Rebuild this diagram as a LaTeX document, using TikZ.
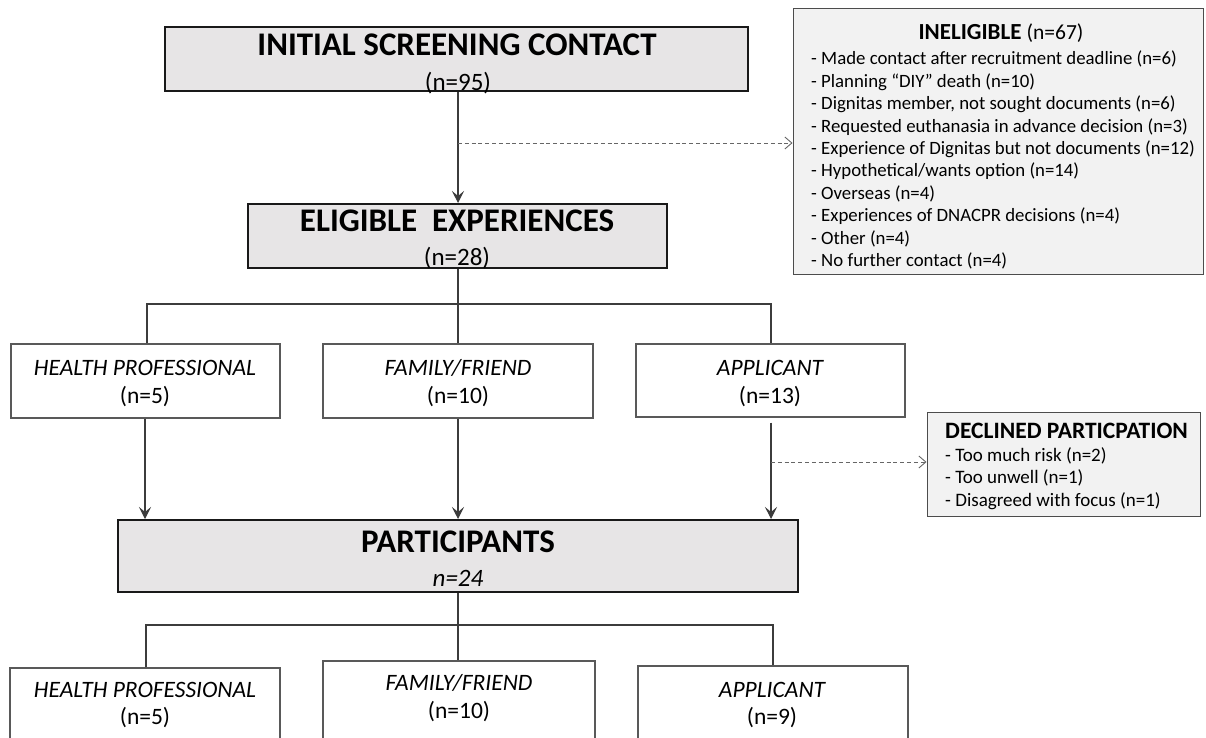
\documentclass[tikz,border=0pt]{standalone}
\usepackage{fontspec}
\setmainfont{Carlito}
\usetikzlibrary{arrows.meta}
\definecolor{boxgray}{RGB}{231,229,230}
\definecolor{listgray}{RGB}{242,242,242}
\definecolor{linec}{RGB}{60,60,60}
\begin{document}
\begin{tikzpicture}[x=1pt,y=-1pt,
  mainbox/.style={draw=black!90, line width=2pt, fill=boxgray, inner sep=0pt},
  subbox/.style={draw=black!65, line width=1.2pt, fill=white, inner sep=0pt},
  listbox/.style={draw=black!70, line width=1pt, fill=listgray, inner sep=0pt},
  conn/.style={draw=linec, line width=1.1pt},
  arr/.style={conn, -{Stealth[length=12pt,width=12pt,inset=5pt]}},
  darr/.style={conn, draw=black!60, line width=0.9pt, dash pattern=on 4pt off 2.8pt, -{Straight Barb[length=7pt,width=12pt]}},
  bigt/.style={font=\fontsize{33}{36}\selectfont\bfseries, inner sep=0pt},
  nt/.style={font=\fontsize{25}{28}\selectfont, inner sep=0pt},
  itn/.style={font=\fontsize{25}{28}\selectfont\itshape, inner sep=0pt},
  subt/.style={font=\fontsize{23.5}{26}\selectfont\itshape, inner sep=0pt},
  subn/.style={font=\fontsize{23.5}{26}\selectfont, inner sep=0pt},
  listt/.style={font=\fontsize{23.5}{26}\selectfont\bfseries, inner sep=0pt},
  listl/.style={font=\fontsize{18.8}{22.4}\selectfont, inner sep=0pt, align=left, anchor=north west}
]
\useasboundingbox (0,0) rectangle (1206,738);
\clip (0,0) rectangle (1206,738);
\fill[white] (0,0) rectangle (1206,738);

% main boxes
\node[mainbox, minimum width=583pt, minimum height=64pt] (init) at (456.5,59) {};
\node[bigt] (initT) at (457,44.7) {INITIAL SCREENING CONTACT};
\node[nt] (initN) at (458,83) {(n=95)};

\node[mainbox, minimum width=419pt, minimum height=64pt] (elig) at (457.5,236) {};
\node[bigt] (eligT) at (457,221) {ELIGIBLE\ \ EXPERIENCES};
\node[nt] (eligN) at (457,258) {(n=28)};

\node[subbox, minimum width=269pt, minimum height=74pt] (hp1) at (145.5,381) {};
\node[subt] (hp1T) at (145,368) {HEALTH PROFESSIONAL};
\node[subn] (hp1N) at (145,397) {(n=5)};
\node[subbox, minimum width=270pt, minimum height=74pt] (ff1) at (458,381) {};
\node[subt] (ff1T) at (458,368) {FAMILY/FRIEND};
\node[subn] (ff1N) at (458,397) {(n=10)};
\node[subbox, minimum width=269pt, minimum height=73pt] (ap1) at (770.5,380.5) {};
\node[subt] (ap1T) at (770,368) {APPLICANT};
\node[subn] (ap1N) at (770,397) {(n=13)};

\node[mainbox, minimum width=680pt, minimum height=72pt] (part) at (458,556) {};
\node[bigt] (partT) at (458,542) {PARTICIPANTS};
\node[itn] (partN) at (458,578) {n=24};

\node[subbox, minimum width=270pt, minimum height=76pt] (hp2) at (145,706) {};
\node[subt] (hp2T) at (145,690) {HEALTH PROFESSIONAL};
\node[subn] (hp2N) at (145,718) {(n=5)};
\node[subbox, minimum width=272pt, minimum height=80pt] (ff2) at (459,701) {};
\node[subt] (ff2T) at (459,683) {FAMILY/FRIEND};
\node[subn] (ff2N) at (459,712) {(n=10)};
\node[subbox, minimum width=270pt, minimum height=76pt] (ap2) at (773,704) {};
\node[subt] (ap2T) at (772,690) {APPLICANT};
\node[subn] (ap2N) at (772,718) {(n=9)};

% side boxes
\node[listbox, minimum width=410pt, minimum height=265pt] (inel) at (998,141.5) {};
\node[inner sep=0pt] (inelT) at (1001,33) {\fontsize{23}{26}\selectfont\bfseries INELIGIBLE \fontsize{21.5}{26}\selectfont\mdseries (n=67)};
\node[listl] (inelL) at (811,51) {- Made contact after recruitment deadline (n=6)\\
- Planning “DIY” death (n=10)\\
- Dignitas member, not sought documents (n=6)\\
- Requested euthanasia in advance decision (n=3)\\
- Experience of Dignitas but not documents (n=12)\\
- Hypothetical/wants option (n=14)\\
- Overseas (n=4)\\
- Experiences of DNACPR decisions (n=4)\\
- Other (n=4)\\
- No further contact (n=4)};

\node[listbox, minimum width=273pt, minimum height=104pt] (decl) at (1063.5,464) {};
\node[listt, anchor=west] (declT) at (945,431) {DECLINED PARTICPATION};
\node[listl, font=\fontsize{19}{22.5}\selectfont] (declL) at (945,447) {- Too much risk (n=2)\\
- Too unwell (n=1)\\
- Disagreed with focus (n=1)};

% connectors
\draw[arr] (init.south -| 458,0) -- (elig.north -| 458,0);
\coordinate (d1) at (458,143);
\draw[darr] (d1) -- (inel.west |- d1);

\coordinate (bar1) at (458,304);
\draw[conn] (elig.south -| bar1) -- (ff1.north -| bar1);
\draw[conn] (hp1.north -| 147,0) |- (bar1) -| (ap1.north -| 771,0);

\draw[arr] (hp1.south -| 145,0) -- (part.north -| 145,0);
\draw[arr] (ff1.south -| 458,0) -- (part.north -| 458,0);
\draw[arr] ([yshift=-5pt]ap1.south -| 771,0) -- (part.north -| 771,0);
\coordinate (d2) at (771,462);
\draw[darr] (d2) -- (decl.west |- d2);

\coordinate (bar2) at (458,625);
\draw[conn] (part.south -| bar2) -- (ff2.north -| bar2);
\draw[conn] (hp2.north -| 146,0) |- (bar2) -| (ap2.north -| 773,0);
\end{tikzpicture}
\end{document}
